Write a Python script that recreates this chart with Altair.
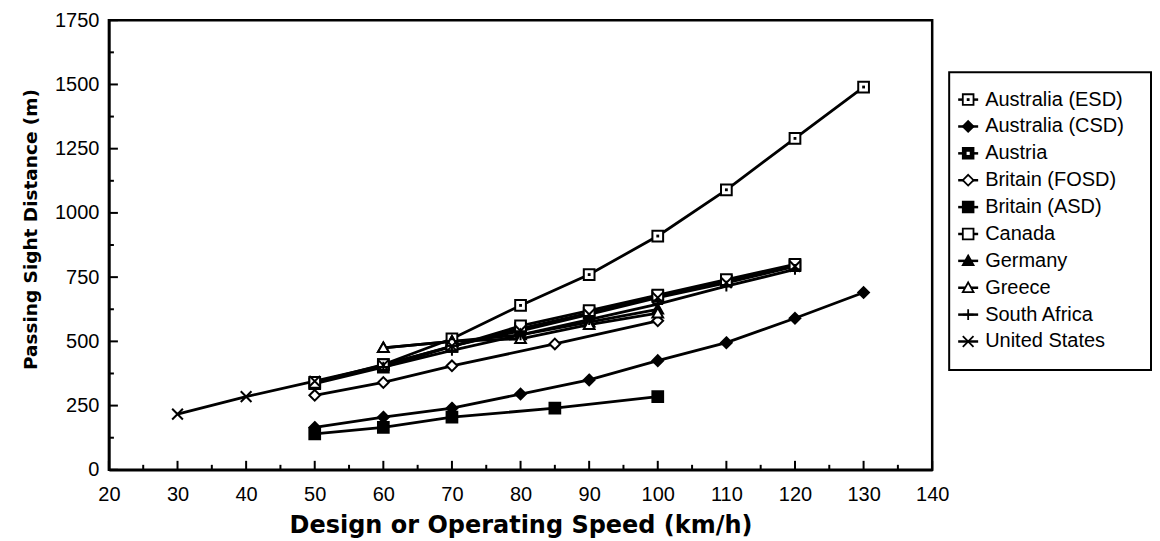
import altair as alt
import pandas as pd

# ---------------- data ----------------
names = ["Australia (ESD)", "Australia (CSD)", "Austria", "Britain (FOSD)",
         "Britain (ASD)", "Canada", "Germany", "Greece", "South Africa",
         "United States"]

esd_x = [60, 70, 80, 90, 100, 110, 120, 130]
esd_y = [410, 510, 640, 760, 910, 1090, 1290, 1490]
csd_x = [50, 60, 70, 80, 90, 100, 110, 120, 130]
csd_y = [165, 205, 240, 295, 350, 425, 495, 590, 690]
austria_x = [50, 60, 70, 80, 90, 100, 110, 120]
austria_y = [335, 400, 480, 550, 610, 675, 735, 795]
fosd_x = [50, 60, 70, 85, 100]
fosd_y = [290, 340, 405, 490, 580]
asd_x = [50, 60, 70, 85, 100]
asd_y = [140, 165, 205, 240, 285]
canada_x = [50, 60, 70, 80, 90, 100, 110, 120]
canada_y = [340, 410, 480, 560, 620, 680, 740, 800]
germany_x = [60, 70, 80, 90, 100]
germany_y = [475, 500, 525, 575, 625]
greece_x = [60, 70, 80, 90, 100]
greece_y = [475, 500, 510, 565, 610]
safrica_x = [60, 70, 80, 90, 100, 110, 120]
safrica_y = [400, 465, 525, 585, 645, 715, 780]
us_x = [30, 40, 50, 60, 70, 80, 90, 100, 110, 120]
us_y = [217, 285, 345, 407, 482, 541, 605, 670, 728, 792]

x_ticks = [20, 30, 40, 50, 60, 70, 80, 90, 100, 110, 120, 130, 140]
x_minor = [25, 35, 45, 55, 65, 75, 85, 95, 105, 115, 125, 135]
y_ticks = [0, 250, 500, 750, 1000, 1250, 1500, 1750]
y_minor = [125, 375, 625, 875, 1125, 1375, 1625]

series = [(esd_x, esd_y), (csd_x, csd_y), (austria_x, austria_y),
          (fosd_x, fosd_y), (asd_x, asd_y), (canada_x, canada_y),
          (germany_x, germany_y), (greece_x, greece_y),
          (safrica_x, safrica_y), (us_x, us_y)]

rows = []
for n, (xs_, ys_) in zip(names, series):
    for xv, yv in zip(xs_, ys_):
        rows.append({"name": n, "speed": xv, "psd": yv})
df = pd.DataFrame(rows)

# ---------------- marker styles ----------------
SQ = "M-1,-1H1V1H-1Z"
DI = "M0,-1L1,0L0,1L-1,0Z"
TR = "M0,-1L1,0.8H-1Z"
PL = "M-1,0H1M0,-1V1"
XX = "M-1,-1L1,1M-1,1L1,-1"
shapes = [SQ, DI, SQ, DI, SQ, SQ, TR, TR, PL, XX]
fills = ["white", "black", "black", "white", "black", "white", "black",
         "white", "black", "black"]
sizes = [115, 115, 155, 85, 145, 115, 115, 115, 160, 130]

shape_scale = alt.Scale(domain=names, range=shapes)
fill_scale = alt.Scale(domain=names, range=fills)
size_scale = alt.Scale(domain=names, range=sizes)

W, H = 824, 450
xs = alt.Scale(domain=[20, 140], nice=False)
ys = alt.Scale(domain=[0, 1750], nice=False)

base = alt.Chart(df)

lines = base.mark_line(color="black", strokeWidth=2.8).encode(
    x=alt.X("speed:Q", scale=xs,
            axis=alt.Axis(values=x_ticks, format="d",
                          title="Design or Operating Speed (km/h)",
                          ticks=False, grid=False, labelPadding=15,
                          titlePadding=9, domainColor="black", domainWidth=2.5,
                          labelFont="Liberation Sans", labelFontSize=20,
                          labelColor="black", titleFont="DejaVu Sans",
                          titleFontSize=24, titleFontWeight="bold",
                          titleColor="black", labelFlush=False)),
    y=alt.Y("psd:Q", scale=ys,
            axis=alt.Axis(values=y_ticks, format="d",
                          title="Passing Sight Distance (m)",
                          ticks=False, grid=False, labelPadding=10,
                          titlePadding=14, titleY=209,
                          domainColor="black", domainWidth=2.5,
                          labelFont="Liberation Sans", labelFontSize=20,
                          labelColor="black", titleFont="DejaVu Sans",
                          titleFontSize=18.5, titleFontWeight="bold",
                          titleColor="black", labelFlush=False)),
    detail="name:N",
    order="speed:Q",
)

points = base.mark_point(filled=True, stroke="black", strokeWidth=2,
                         opacity=1).encode(
    x=alt.X("speed:Q", scale=xs),
    y=alt.Y("psd:Q", scale=ys),
    shape=alt.Shape("name:N", scale=shape_scale, legend=None),
    fill=alt.Fill("name:N", scale=fill_scale, legend=None),
    size=alt.Size("name:N", scale=size_scale, legend=None),
)

esd_dots = base.transform_filter(alt.datum.name == "Australia (ESD)").mark_point(
    shape="square", filled=True, color="black", size=8, opacity=1).encode(
    x=alt.X("speed:Q", scale=xs), y=alt.Y("psd:Q", scale=ys))

ytick_df = pd.DataFrame({"v": y_ticks})
ymin_df = pd.DataFrame({"v": y_minor})
xtick_df = pd.DataFrame({"v": x_ticks})
xmin_df = pd.DataFrame({"v": x_minor})

ytk = alt.Chart(ytick_df).mark_rule(color="black", strokeWidth=2).encode(
    y=alt.Y("v:Q", scale=ys), x=alt.value(0), x2=alt.value(9))
ymn = alt.Chart(ymin_df).mark_rule(color="black", strokeWidth=2).encode(
    y=alt.Y("v:Q", scale=ys), x=alt.value(0), x2=alt.value(5))
xtk = alt.Chart(xtick_df).mark_rule(color="black", strokeWidth=2).encode(
    x=alt.X("v:Q", scale=xs), y=alt.value(H), y2=alt.value(H - 9))
xmn = alt.Chart(xmin_df).mark_rule(color="black", strokeWidth=2).encode(
    x=alt.X("v:Q", scale=xs), y=alt.value(H), y2=alt.value(H - 5))

main = alt.layer(lines, ytk, ymn, xtk, xmn, points, esd_dots).properties(
    width=W, height=H,
    view=alt.ViewBackground(stroke="black", strokeWidth=2.5))

# ---------------- legend panel ----------------
leg_df = pd.DataFrame({"name": names})
ly = alt.Y("name:N", scale=alt.Scale(type="point", domain=names, range=[66, 335]),
           axis=None)
box = alt.Chart(pd.DataFrame({"a": [0]})).mark_rect(
    fillOpacity=0, stroke="black", strokeWidth=2).encode(
    x=alt.value(1), x2=alt.value(203), y=alt.value(52), y2=alt.value(350))
seg = alt.Chart(leg_df).mark_rule(color="black", strokeWidth=2.5).encode(
    y=ly, x=alt.value(10), x2=alt.value(30))
lpts = alt.Chart(leg_df).mark_point(filled=True, stroke="black",
                                    strokeWidth=1.8, opacity=1).encode(
    y=ly, x=alt.value(20),
    shape=alt.Shape("name:N", scale=shape_scale, legend=None),
    fill=alt.Fill("name:N", scale=fill_scale, legend=None),
    size=alt.Size("name:N", scale=size_scale, legend=None))
ldot = alt.Chart(leg_df).transform_filter(
    alt.datum.name == "Australia (ESD)").mark_point(
    shape="square", filled=True, color="black", size=8, opacity=1).encode(
    y=ly, x=alt.value(20))
lhole = alt.Chart(leg_df).transform_filter(
    alt.datum.name == "Austria").mark_point(
    shape="square", filled=True, color="white", size=10, opacity=1).encode(
    y=ly, x=alt.value(20))
ltext = alt.Chart(leg_df).mark_text(align="left", baseline="middle",
                                     font="Liberation Sans", fontSize=20,
                                     color="black").encode(
    y=ly, x=alt.value(37), text="name:N")

legend = alt.layer(box, seg, lpts, ldot, lhole, ltext).properties(
    width=204, height=H, view=alt.ViewBackground(stroke=None))

chart = alt.hconcat(main, legend, spacing=16, bounds="flush").properties(
    padding={"left": 12, "top": 0, "right": 0, "bottom": 0},
    background="white",
).resolve_scale(shape="shared", fill="shared", size="shared")

chart.save("out.html", embed_options={"renderer": "svg", "actions": False})
